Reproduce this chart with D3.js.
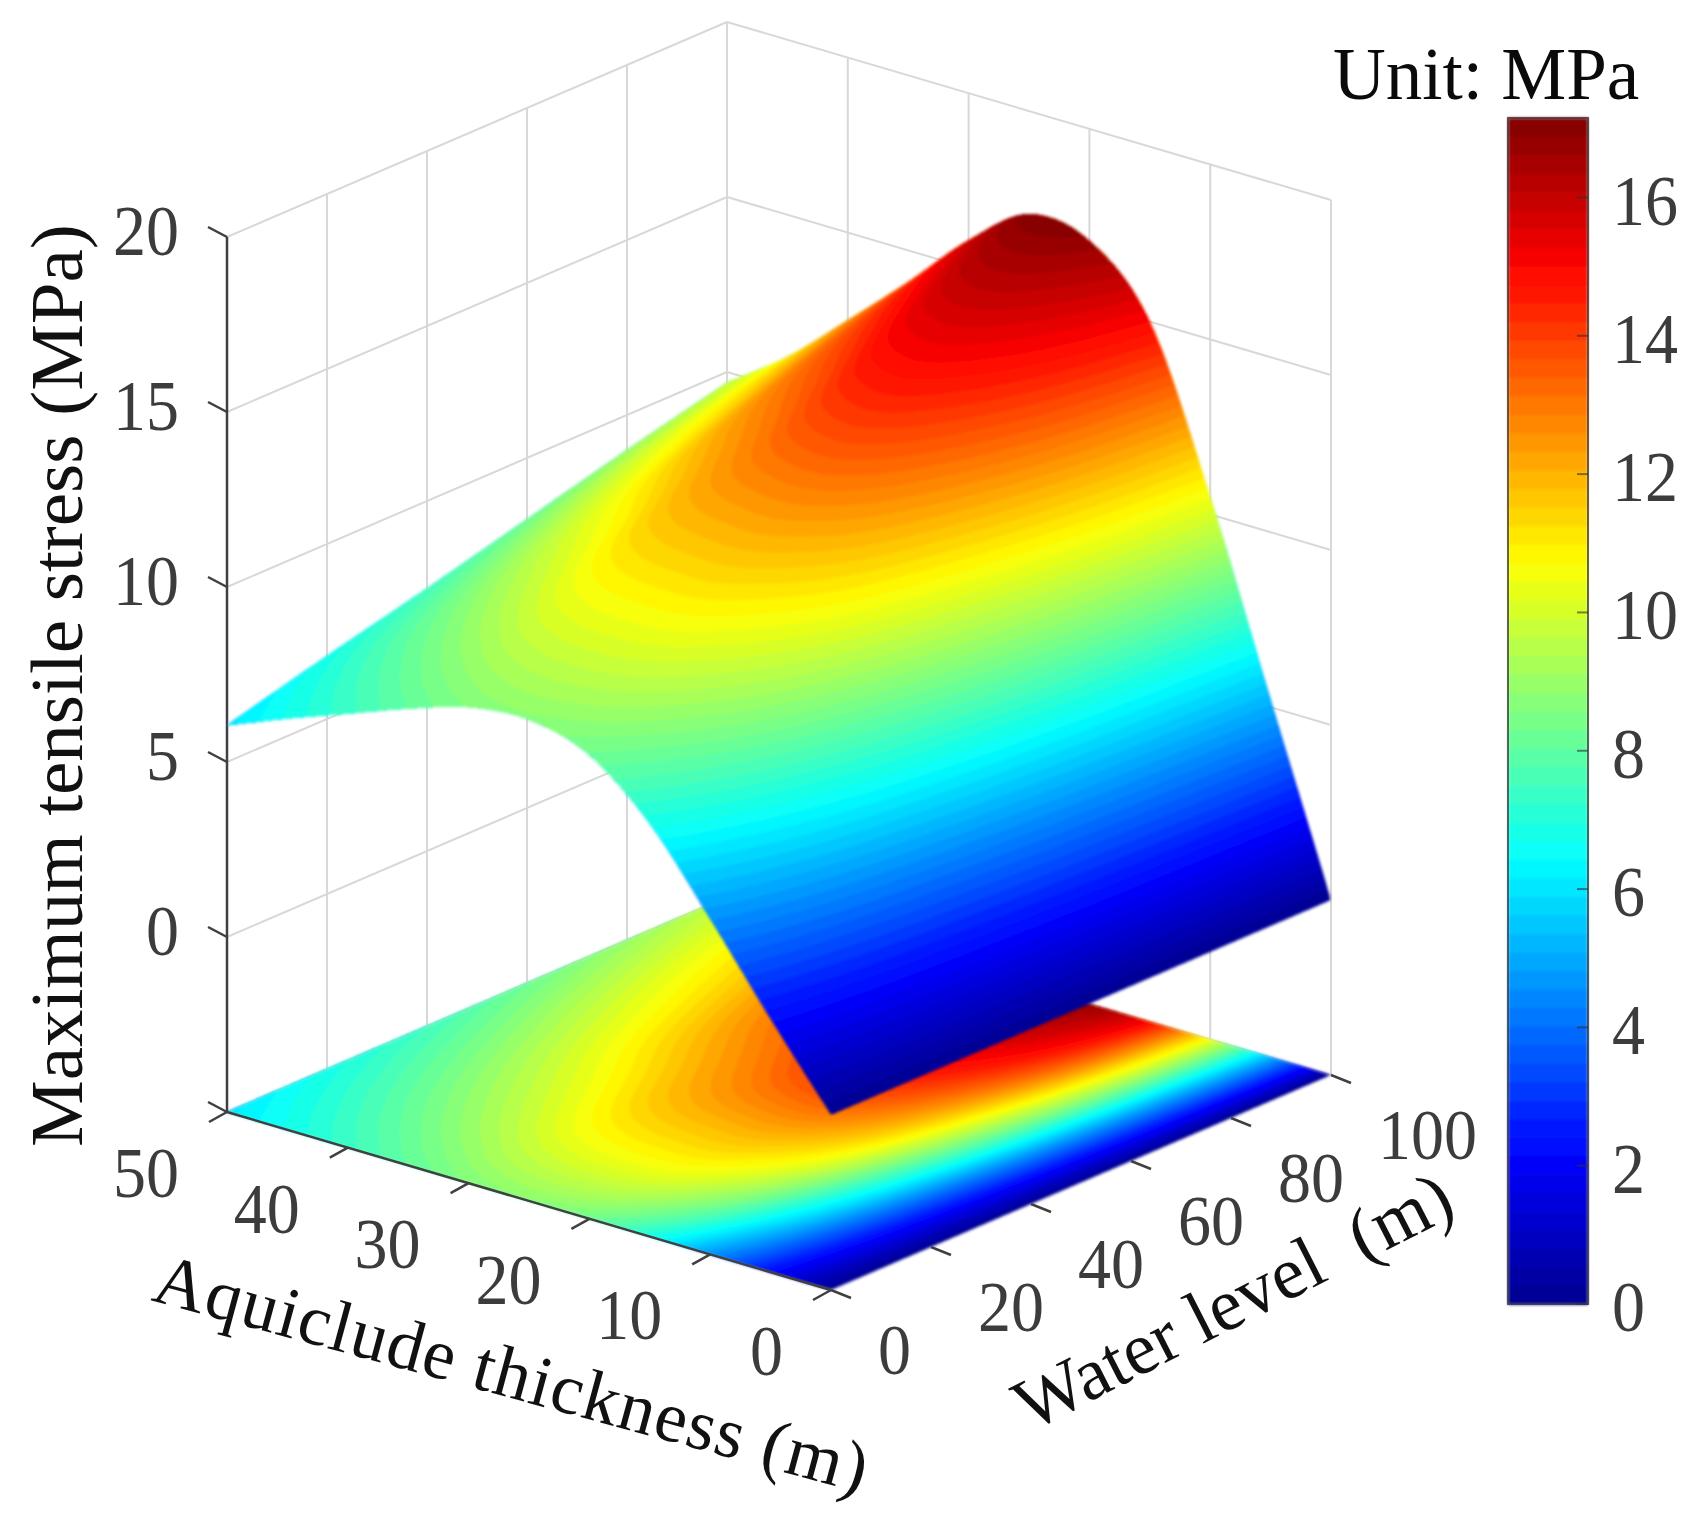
<!DOCTYPE html>
<html>
<head>
<meta charset="utf-8">
<script src="https://d3js.org/d3.v7.min.js"></script>
<style>
  body { margin: 0; background: #fff; }
  text { font-family: "Liberation Serif", serif; }
</style>
</head>
<body>
<div id="chart"></div>
<script>
/* axis grid of the data table */
var thickness = [0, 5, 10, 15, 20, 25, 30, 35, 40, 45, 50];
var waterLevel = [0, 20, 40, 60, 80, 100];

/* stress in MPa: one row per water level, one column per thickness */
var stressW0 = [0, 2.25, 4.6, 6.8, 8.25, 8.75, 8.6, 8.05, 7.4, 6.75, 6.05];
var stressW20 = [0, 3.0, 6.2, 8.9, 10.3, 10.55, 10.3, 9.5, 8.6, 7.7, 6.8];
var stressW40 = [0, 3.6, 7.6, 10.8, 12.1, 12.2, 11.8, 10.7, 9.7, 8.6, 7.5];
var stressW60 = [0, 4.2, 8.8, 12.3, 14.0, 14.0, 13.0, 12.0, 10.7, 9.5, 8.25];
var stressW80 = [0, 4.7, 9.8, 13.8, 15.5, 15.6, 14.4, 13.1, 11.6, 10.3, 9.0];
var stressW100 = [0, 5.2, 10.5, 15.0, 16.8, 17.05, 15.8, 14.1, 12.5, 10.95, 9.7];
var stressRows = [stressW0, stressW20, stressW40, stressW60, stressW80, stressW100];

var thicknessTicks = [0, 10, 20, 30, 40, 50];
var waterTicks = [0, 20, 40, 60, 80, 100];
var stressTicks = [-5, 0, 5, 10, 15, 20];
var stressLabels = [0, 5, 10, 15, 20];
var colorbarTicks = [0, 2, 4, 6, 8, 10, 12, 14, 16];

var colorMax = 17.15;
var colorLevels = 64;
var jetStops = [0, 0.125, 0.375, 0.625, 0.875, 1];
var jetColors = ["#00008f", "#0000ff", "#00ffff", "#ffff00", "#ff0000", "#800000"];

var width = 1697;
var height = 1528;

var svg = d3.select("#chart").append("svg")
    .attr("width", width)
    .attr("height", height)
    .style("display", "block");

svg.append("defs").append("filter")
    .attr("id", "soft")
    .attr("x", "-2%").attr("y", "-2%").attr("width", "104%").attr("height", "104%")
    .append("feGaussianBlur")
    .attr("stdDeviation", 1.8);

/* oblique 3D axes: each data axis gets its own screen vector */
var origin = {x: 831, y: 1290};
var tScale = d3.scaleLinear().domain([0, 50]);
var wScale = d3.scaleLinear().domain([0, 100]);
var zScale = d3.scaleLinear().domain([-5, 20]).range([0, -875]);
var tVec = {x: 227 - origin.x, y: 1112 - origin.y};
var wVec = {x: 1331 - origin.x, y: 1075 - origin.y};

function project(t, w, z) {
  var a = tScale(t);
  var b = wScale(w);
  return [
    origin.x + a * tVec.x + b * wVec.x,
    origin.y + a * tVec.y + b * wVec.y + zScale(z)
  ];
}

/* colour map */
var jet = d3.scaleLinear().domain(jetStops).range(jetColors).interpolate(d3.interpolateRgb);
function levelColor(k) {
  return jet((k + 0.5) / colorLevels);
}
var levelValues = d3.range(colorLevels).map(function (k) {
  return k * colorMax / colorLevels;
});

/* smooth curve through the table values, used between grid positions only */
function catmull(p0, p1, p2, p3, u) {
  return 0.5 * (2 * p1 + (p2 - p0) * u + (2 * p0 - 5 * p1 + 4 * p2 - p3) * u * u + (3 * p1 - p0 - 3 * p2 + p3) * u * u * u);
}
function sampleLine(values, pos) {
  var n = values.length - 1;
  var i = Math.min(Math.floor(pos), n - 1);
  var get = function (j) {
    if (j < 0) {
      return 2 * values[0] - values[1];
    }
    if (j > n) {
      return 2 * values[n] - values[n - 1];
    }
    return values[j];
  };
  return catmull(get(i - 1), get(i), get(i + 1), get(i + 2), pos - i);
}
function stressAt(t, w) {
  var tPos = t / (thickness[1] - thickness[0]);
  var wPos = w / (waterLevel[1] - waterLevel[0]);
  var column = stressRows.map(function (row) {
    return sampleLine(row, tPos);
  });
  return sampleLine(column, wPos);
}

/* contour bands on a fine sampling of the table */
var nx = 300;
var ny = 200;
var toT = d3.scaleLinear().domain([0, nx]).range([0, 50]);
var toW = d3.scaleLinear().domain([0, ny]).range([0, 100]);
var grid = new Float64Array(nx * ny);
for (var j = 0; j < ny; j += 1) {
  for (var i = 0; i < nx; i += 1) {
    grid[i + j * nx] = Math.max(0, stressAt(toT(i + 0.5), toW(j + 0.5)));
  }
}
var bands = d3.contours().size([nx, ny]).thresholds(levelValues)(grid);

function bandPath(onFloor) {
  return d3.geoPath(d3.geoTransform({
    point: function (gx, gy) {
      var t = toT(gx);
      var w = toW(gy);
      var p = project(t, w, onFloor ? -5 : stressAt(t, w));
      this.stream.point(p[0], p[1]);
    }
  }));
}

/* walls */
var gridColor = "#d8d8d8";
var gridGroup = svg.append("g")
    .attr("fill", "none")
    .attr("stroke", gridColor)
    .attr("stroke-width", 2);

function segment(group, a, b) {
  group.append("line")
      .attr("x1", a[0]).attr("y1", a[1])
      .attr("x2", b[0]).attr("y2", b[1]);
}
stressTicks.forEach(function (z) {
  segment(gridGroup, project(50, 0, z), project(50, 100, z));
  segment(gridGroup, project(50, 100, z), project(0, 100, z));
});
waterTicks.forEach(function (w) {
  segment(gridGroup, project(50, w, -5), project(50, w, 20));
});
thicknessTicks.forEach(function (t) {
  segment(gridGroup, project(t, 100, -5), project(t, 100, 20));
});

/* floor map */
var floorPath = bandPath(true);
svg.append("g")
    .attr("filter", "url(#soft)")
    .selectAll("path")
    .data(bands)
    .enter()
    .append("path")
    .attr("d", floorPath)
    .attr("fill", function (d, k) {
      return levelColor(k);
    });

/* axes and ticks */
var axisColor = "#404040";
var axisGroup = svg.append("g")
    .attr("fill", "none")
    .attr("stroke", axisColor)
    .attr("stroke-width", 2.5);
segment(axisGroup, project(50, 0, -5), project(50, 0, 20));
segment(axisGroup, project(50, 0, -5), project(0, 0, -5));

stressTicks.forEach(function (z) {
  var p = project(50, 0, z);
  segment(axisGroup, p, [p[0] - 19, p[1] - 10]);
});
thicknessTicks.forEach(function (t) {
  var p = project(t, 0, -5);
  segment(axisGroup, p, [p[0] - 18, p[1] + 10]);
});
waterTicks.forEach(function (w) {
  var p = project(0, w, -5);
  segment(axisGroup, p, [p[0] + 20, p[1] + 8]);
});

/* surface */
var surfacePath = bandPath(false);
svg.append("g")
    .attr("filter", "url(#soft)")
    .selectAll("path")
    .data(bands)
    .enter()
    .append("path")
    .attr("d", surfacePath)
    .attr("fill", function (d, k) {
      return levelColor(k);
    });

/* tick labels: the digits in the figure are a little taller than wide */
var tickFont = 66;
var tickStretch = 1.08;
var tickColor = "#3c3c3c";
var labelGroup = svg.append("g")
    .attr("font-size", tickFont)
    .attr("fill", tickColor);

function tickLabel(x, y) {
  return "translate(" + x + "," + y + ") scale(1," + tickStretch + ")";
}

labelGroup.selectAll("text.stress")
    .data(stressLabels)
    .enter()
    .append("text")
    .attr("class", "stress")
    .attr("text-anchor", "end")
    .attr("transform", function (d) {
      var p = project(50, 0, d);
      return tickLabel(p[0] - 48, p[1] + 18);
    })
    .text(function (d) {
      return d;
    });

labelGroup.selectAll("text.thick")
    .data(thicknessTicks)
    .enter()
    .append("text")
    .attr("class", "thick")
    .attr("text-anchor", "end")
    .attr("transform", function (d) {
      var p = project(d, 0, -5);
      return tickLabel(p[0] - 48, p[1] + 85);
    })
    .text(function (d) {
      return d;
    });

labelGroup.selectAll("text.water")
    .data(waterTicks)
    .enter()
    .append("text")
    .attr("class", "water")
    .attr("text-anchor", "start")
    .attr("transform", function (d) {
      var p = project(0, d, -5);
      return tickLabel(p[0] + 47, p[1] + 84);
    })
    .text(function (d) {
      return d;
    });

/* colour bar */
var barLeft = 1508;
var barRight = 1588;
var barScale = d3.scaleLinear().domain([0, 16]).range([1304, 197.5]);

var barGroup = svg.append("g");
barGroup.append("g")
    .attr("filter", "url(#soft)")
    .selectAll("rect")
    .data(d3.range(colorLevels))
    .enter()
    .append("rect")
    .attr("x", barLeft)
    .attr("width", barRight - barLeft)
    .attr("y", function (k) {
      return barScale((k + 1) * colorMax / colorLevels);
    })
    .attr("height", function (k) {
      return barScale(k * colorMax / colorLevels) - barScale((k + 1) * colorMax / colorLevels) + 0.6;
    })
    .attr("fill", levelColor);
barGroup.append("rect")
    .attr("x", barLeft)
    .attr("y", barScale(colorMax))
    .attr("width", barRight - barLeft)
    .attr("height", barScale(0) - barScale(colorMax))
    .attr("fill", "none")
    .attr("stroke", "#303030")
    .attr("stroke-opacity", 0.75)
    .attr("stroke-width", 2);
barGroup.selectAll("line")
    .data(colorbarTicks)
    .enter()
    .append("line")
    .attr("x1", barRight - 11)
    .attr("x2", barRight)
    .attr("y1", barScale)
    .attr("y2", barScale)
    .attr("stroke", "#303030")
    .attr("stroke-opacity", 0.6)
    .attr("stroke-width", 2);
barGroup.selectAll("text")
    .data(colorbarTicks)
    .enter()
    .append("text")
    .attr("transform", function (d) {
      return tickLabel(1612, barScale(d) + 27);
    })
    .attr("font-size", tickFont)
    .attr("fill", tickColor)
    .text(function (d) {
      return d;
    });

/* titles */
svg.append("text")
    .attr("x", 1333)
    .attr("y", 99)
    .attr("font-size", 73)
    .attr("fill", "#0a0a0a")
    .text("Unit: MPa");

svg.append("text")
    .attr("transform", "translate(82,1147) rotate(-90)")
    .attr("font-size", 75)
    .attr("fill", "#111")
    .text("Maximum tensile stress (MPa)");

svg.append("text")
    .attr("transform", "translate(150,1300) rotate(15.2)")
    .attr("font-size", 72)
    .attr("letter-spacing", 1.3)
    .attr("fill", "#111")
    .text("Aquiclude thickness (m)");

svg.append("text")
    .attr("transform", "translate(1030,1432) rotate(-27)")
    .attr("font-size", 74)
    .attr("fill", "#111")
    .attr("xml:space", "preserve")
    .style("white-space", "pre")
    .text("Water level  (m)");
</script>
</body>
</html>
